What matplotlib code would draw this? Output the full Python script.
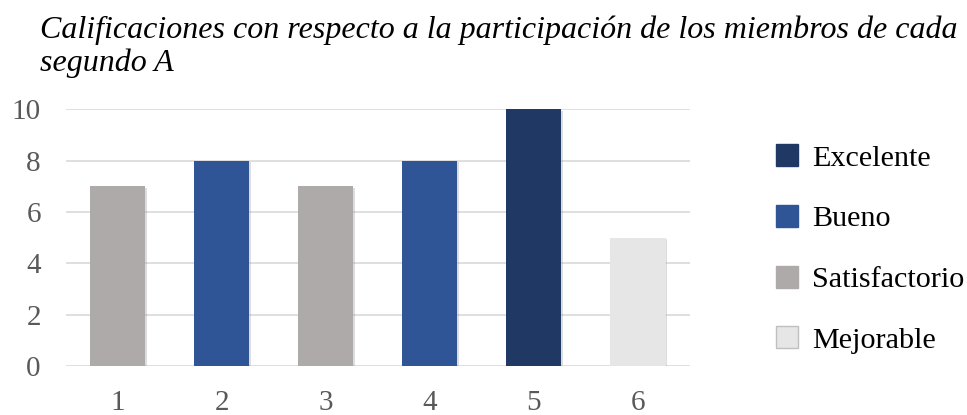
import matplotlib.pyplot as plt
import matplotlib.patches as mpatches
import matplotlib.patheffects as pe

plt.rcParams['font.family'] = ['Liberation Serif', 'DejaVu Serif']

# data
members = ['1', '2', '3', '4', '5', '6']
scores = [7, 8, 7, 8, 10, 5]
ratings = ['Satisfactorio', 'Bueno', 'Satisfactorio', 'Bueno', 'Excelente', 'Mejorable']
legend_order = ['Excelente', 'Bueno', 'Satisfactorio', 'Mejorable']
colors = {
    'Excelente': '#203864',
    'Bueno': '#2F5597',
    'Satisfactorio': '#AEAAAA',
    'Mejorable': '#E7E6E6',
}

fig = plt.figure(figsize=(9.67, 4.15), dpi=100)
ax = fig.add_axes([0.068, 0.118, 0.6455, 0.619])

xs = range(1, len(members) + 1)
bars = ax.bar(xs, scores, width=0.53, color=[colors[r] for r in ratings], zorder=3)
for b in bars:
    b.set_path_effects([pe.SimplePatchShadow(offset=(1, -1), shadow_rgbFace='#909090', alpha=0.3),
                        pe.Normal()])

ax.set_xlim(0.5, 6.5)
ax.set_ylim(0, 10)
ax.set_xticks(list(xs))
ax.set_xticklabels(members)
ax.set_yticks([0, 2, 4, 6, 8, 10])
ax.grid(axis='y', color='#D9D9D9', linewidth=1.2, zorder=0)
for s in ax.spines.values():
    s.set_visible(False)
ax.tick_params(length=0, labelsize=21, colors='#595959')
ax.tick_params(axis='y', pad=18)
ax.tick_params(axis='x', pad=17)

fig.text(0.041, 0.887, 'Calificaciones con respecto a la participación de los miembros de cada\nsegundo A',
         fontsize=23, style='italic', ha='left', va='center', linespacing=1.17)

handles = []
for r in legend_order:
    ec = '#BFBFBF' if r == 'Mejorable' else colors[r]
    handles.append(mpatches.Patch(facecolor=colors[r], edgecolor=ec, label=r))
fig.legend(handles=handles, loc='center left', bbox_to_anchor=(0.774, 0.40), frameon=False,
           fontsize=21.7, handlelength=0.75, handleheight=0.75, labelspacing=1.1, handletextpad=0.45)

fig.savefig('out.png', dpi=100)
